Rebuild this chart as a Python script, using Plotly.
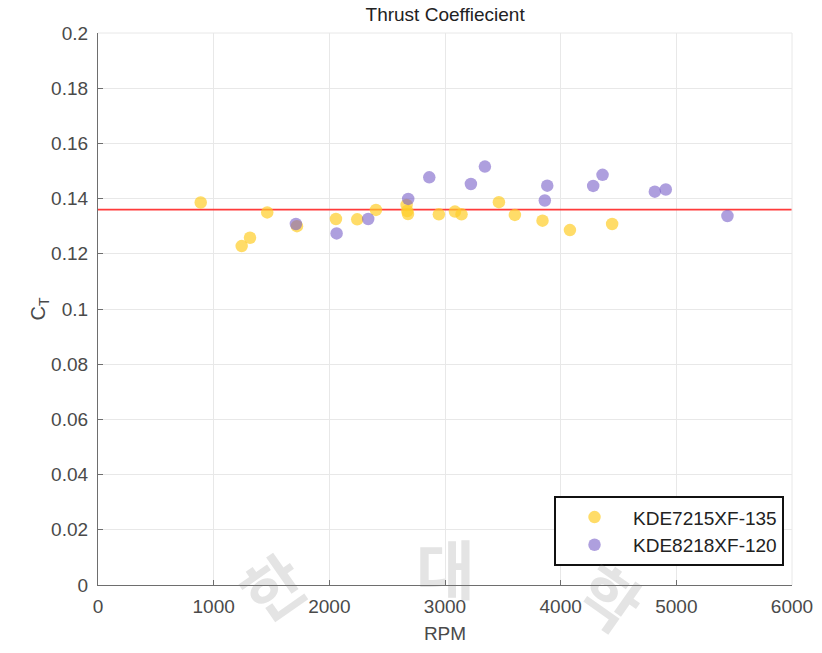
import plotly.graph_objects as go

# Measured thrust coefficient vs. rotor speed for two motor/propeller sets
rpm_7215 = [888, 1242, 1314, 1463, 1720, 2057, 2241, 2403, 2668, 2674, 2680,
            2947, 3086, 3143, 3466, 3604, 3843, 4080, 4445]
ct_7215 = [0.1386, 0.1228, 0.1258, 0.1350, 0.1300, 0.1326, 0.1325, 0.1359,
           0.1377, 0.1355, 0.1344, 0.1343, 0.1353, 0.1343, 0.1387, 0.1341,
           0.1320, 0.1286, 0.1308]

rpm_8218 = [1711, 2063, 2336, 2682, 2864, 3224, 3345, 3863, 3884, 4281, 4362,
            4814, 4909, 5442]
ct_8218 = [0.1308, 0.1274, 0.1326, 0.1399, 0.1477, 0.1453, 0.1516, 0.1393,
           0.1447, 0.1446, 0.1486, 0.1425, 0.1433, 0.1337]

# Mean thrust coefficient drawn as a reference line across the RPM range
ct_mean = 0.136
rpm_range = [0, 6000]

x_ticks = [0, 1000, 2000, 3000, 4000, 5000, 6000]
y_ticks = [0, 0.02, 0.04, 0.06, 0.08, 0.1, 0.12, 0.14, 0.16, 0.18, 0.2]
y_tick_text = ["0", "0.02", "0.04", "0.06", "0.08", "0.1", "0.12", "0.14",
               "0.16", "0.18", "0.2"]

FONT = "Liberation Sans, Arial, sans-serif"
AXIS_COLOR = "#6e6e6e"
GRID_COLOR = "#e8e8e8"
LABEL_COLOR = "#4a4a4a"

fig = go.Figure()

fig.add_trace(go.Scatter(
    x=rpm_range, y=[ct_mean, ct_mean], mode="lines",
    line=dict(color="#ff3b3b", width=1.6), showlegend=False, hoverinfo="skip"))

fig.add_trace(go.Scatter(
    x=rpm_7215, y=ct_7215, mode="markers", name="KDE7215XF-135",
    marker=dict(size=12.5, color="rgb(255,205,40)", opacity=0.7,
                line=dict(width=0))))

fig.add_trace(go.Scatter(
    x=rpm_8218, y=ct_8218, mode="markers", name="KDE8218XF-120",
    marker=dict(size=12.5, color="rgb(120,95,200)", opacity=0.6,
                line=dict(width=0))))

# Faint seal lettering printed over the figure
seal = [("한", 0.250, 0.0, -35), ("대", 0.50, 0.035, 0), ("학", 0.74, -0.02, 35)]
for ch, px, py, rot in seal:
    fig.add_annotation(
        x=px, y=py, xref="paper", yref="paper", text="<b>" + ch + "</b>",
        showarrow=False, textangle=rot,
        font=dict(family="Noto Sans CJK KR", size=64,
                  color="rgba(120,120,120,0.20)"),
        xanchor="center", yanchor="middle")

fig.update_layout(
    width=822, height=653,
    margin=dict(l=98, r=30, t=33, b=68),
    paper_bgcolor="white", plot_bgcolor="white",
    font=dict(family=FONT, size=19, color=LABEL_COLOR),
    title=dict(text="Thrust Coeffiecient", x=0.5415, xanchor="center",
               y=0.978, yanchor="middle",
               font=dict(family=FONT, size=19, color="#222222")),
    xaxis=dict(
        range=rpm_range, tickvals=x_ticks, ticktext=[str(v) for v in x_ticks],
        automargin=False,
        showgrid=True, gridcolor=GRID_COLOR, gridwidth=1,
        zeroline=False, showline=True, linecolor=AXIS_COLOR, linewidth=1.2,
        ticks="inside", ticklen=5, tickcolor=AXIS_COLOR,
        ticklabelstandoff=4,
        tickfont=dict(size=19, color=LABEL_COLOR),
        title=dict(text="RPM", font=dict(size=19, color=LABEL_COLOR), standoff=10)),
    yaxis=dict(
        range=[0, 0.2], tickvals=y_ticks, ticktext=y_tick_text,
        automargin=False,
        showgrid=True, gridcolor=GRID_COLOR, gridwidth=1,
        zeroline=False, showline=True, linecolor=AXIS_COLOR, linewidth=1.2,
        ticks="inside", ticklen=5, tickcolor=AXIS_COLOR,
        ticklabelstandoff=5,
        tickfont=dict(size=19, color=LABEL_COLOR),
        title=dict(text="C<sub>T</sub>", font=dict(size=20, color=LABEL_COLOR),
                   standoff=0)),
    legend=dict(
        x=0.9885, y=0.034, xanchor="right", yanchor="bottom",
        bgcolor="white", bordercolor="#111111", borderwidth=2,
        font=dict(family=FONT, size=19, color="#222222"),
        itemwidth=67, tracegroupgap=0),
    shapes=[
        dict(type="line", xref="paper", yref="paper", x0=0, x1=1, y0=1, y1=1,
             line=dict(color=GRID_COLOR, width=1)),
        dict(type="line", xref="paper", yref="paper", x0=1, x1=1, y0=0, y1=1,
             line=dict(color=GRID_COLOR, width=1)),
    ],
)

fig.write_html("out.html")
